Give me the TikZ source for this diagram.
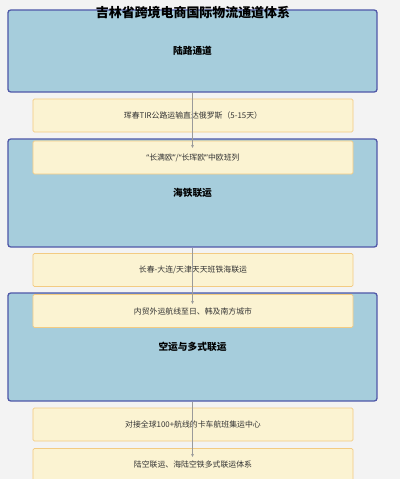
\documentclass[tikz,border=0pt]{standalone}
\usepackage{fontspec}
\setmainfont{Noto Sans CJK SC}
\newfontfamily\quotefont{Noto Sans}
\usetikzlibrary{arrows.meta}
\definecolor{bggray}{HTML}{F3F3F3}
\definecolor{chanfill}{HTML}{A6CDDC}
\definecolor{chanline}{HTML}{5058A8}
\definecolor{itemfill}{HTML}{FBF3D2}
\definecolor{itemline}{HTML}{F3CB82}
\definecolor{linkgray}{HTML}{9A9A9A}
\definecolor{textgray}{HTML}{333333}
\newcommand{\railname}[1]{{\quotefont “}#1{\quotefont ”}}

\begin{document}
\begin{tikzpicture}[x=0.025cm, y=-0.025cm,
        chan/.style={draw=chanline, fill=chanfill, line width=0.9pt, rounded corners=2pt,
            minimum width=9.225cm, text=black, font=\fontsize{6.9}{8}\selectfont\bfseries},
        item/.style={draw=itemline, fill=itemfill, line width=0.6pt, rounded corners=1pt,
            minimum width=8cm, minimum height=0.825cm, text=textgray, font=\fontsize{5.6}{7}\selectfont},
        link/.style={draw=linkgray, line width=0.4pt, -{Stealth[length=2.2pt, width=2pt]}}]
        \fill[bggray] (0,0) rectangle (400,479);
        \useasboundingbox (0,0) rectangle (400,479);
        % channels
        \node[chan, minimum height=2.05cm] (land) at (192.5, 51) {陆路通道};
        \node[item] (tir) at (193, 115.5) {珲春TIR公路运输直达俄罗斯（5-15天）};
        \node[chan, minimum height=2.7cm] (sea) at (192.5, 193) {海铁联运};
        \node[item] (rail) at (193, 157.5) {\railname{长满欧}/\railname{长珲欧}中欧班列};
        \node[item] (port) at (193, 270) {长春-大连/天津天天班铁海联运};
        \node[chan, minimum height=2.7cm] (air) at (192.5, 347) {空运与多式联运};
        \node[item] (route) at (193, 311) {内贸外运航线至日、韩及南方城市};
        \node[item] (hub) at (193, 424.5) {对接全球100+航线的卡车航班集运中心};
        \node[item] (multi) at (193, 465) {陆空联运、海陆空铁多式联运体系};
        % links
        \coordinate (seaIn) at (192.5, 148);
        \coordinate (airIn) at (192.5, 304);
        \coordinate (multiIn) at (192.5, 457);
        \draw[link] (land.south) -- (seaIn);
        \draw[link] (sea.south) -- (airIn);
        \draw[link] (air.south) -- (multiIn);
        \node[font=\fontsize{9.2}{11}\selectfont\bfseries, text=black] (title) at (193, 13) {吉林省跨境电商国际物流通道体系};
    \end{tikzpicture}
\end{document}
